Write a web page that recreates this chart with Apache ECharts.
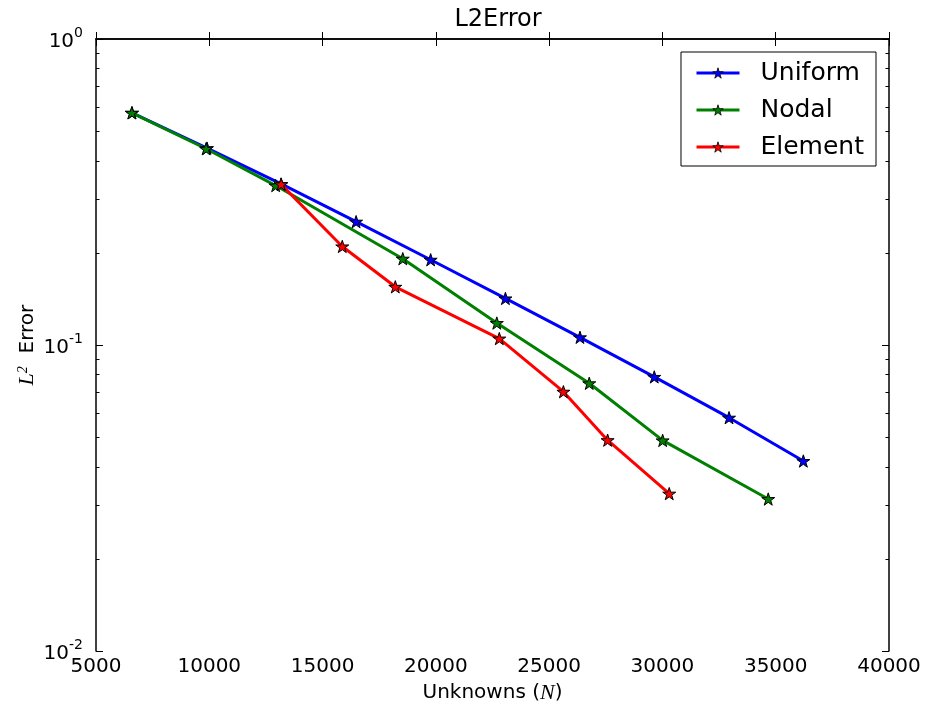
<!DOCTYPE html>
<html>
<head>
<meta charset="utf-8">
<title>L2Error</title>
<script src="https://cdn.jsdelivr.net/npm/echarts@6/dist/echarts.min.js"></script>
<style>
  html, body { margin: 0; padding: 0; background: #fff; }
  #chart { width: 930px; height: 709px; }
</style>
</head>
<body>
<div id="chart"></div>
<script>
// values
const uniformN = [6590, 9900, 13170, 16480, 19770, 23070, 26360, 29640, 32940, 36220]
const uniformErr = [0.574, 0.440, 0.336, 0.253, 0.190, 0.142, 0.106, 0.0787, 0.0579, 0.0418]

const nodalN = [6580, 9860, 12930, 18540, 22690, 26770, 30010, 34670]
const nodalErr = [0.574, 0.438, 0.332, 0.1915, 0.118, 0.075, 0.0488, 0.0314]

const elementN = [13170, 15870, 18210, 22800, 25630, 27580, 30300]
const elementErr = [0.335, 0.210, 0.155, 0.105, 0.0704, 0.0489, 0.0327]

// axis ticks
const xMin = 5000
const xMax = 40000
const xStep = 5000
const yMin = 0.01
const yMax = 1
const minorMultipliers = [2, 3, 4, 5, 6, 7, 8, 9]

const FONT = 'DejaVu Sans'

// minor tick positions in log10 space, for the helper axes
const minorTicks = []
for (let e = Math.log10(yMin); e < Math.log10(yMax); e++) {
  minorMultipliers.forEach(m => minorTicks.push(Math.log10(m) + e))
}

// matplotlib style '*' marker
const STAR = 'path://M100,0 L122.45,69.1 L195.1,69.1 L136.3,111.8 L158.8,180.9 L100,138.2 L41.2,180.9 L63.7,111.8 L4.9,69.1 L77.55,69.1 Z'

const zip = (xs, ys) => xs.map((x, i) => [x, ys[i]])

const makeSeries = (name, xs, ys, color) => ({
  name,
  type: 'line',
  data: zip(xs, ys),
  xAxisIndex: 0,
  yAxisIndex: 0,
  symbol: STAR,
  symbolSize: 13,
  symbolKeepAspect: true,
  showAllSymbol: true,
  lineStyle: { color, width: 3 },
  itemStyle: { color, borderColor: '#000', borderWidth: 1 },
  emphasis: { disabled: true }
})

const tickCommon = { show: true, inside: true, lineStyle: { color: '#000', width: 1 } }
const lineCommon = { show: true, lineStyle: { color: '#000', width: 1.5 } }

// helper axis that only draws minor ticks
const minorAxis = (position) => ({
  type: 'value',
  position,
  min: Math.log10(yMin),
  max: Math.log10(yMax),
  axisLine: { show: false },
  axisLabel: { show: false },
  splitLine: { show: false },
  axisTick: Object.assign({}, tickCommon, { length: 3.5, customValues: minorTicks })
})

const chart = echarts.init(document.getElementById('chart'))

chart.setOption({
  animation: false,
  backgroundColor: '#fff',
  textStyle: { fontFamily: FONT },
  title: {
    text: 'L2Error',
    left: 493,
    textAlign: 'center',
    top: 3,
    textStyle: { fontFamily: FONT, fontSize: 24, fontWeight: 'normal', color: '#000' }
  },
  grid: { left: 96, right: 41, top: 39, bottom: 57 },
  legend: {
    orient: 'vertical',
    right: 54,
    top: 52,
    align: 'left',
    padding: [8, 12, 6, 14],
    itemGap: 11,
    itemWidth: 43,
    itemHeight: 13,
    backgroundColor: '#fff',
    borderColor: '#000',
    borderWidth: 1,
    borderRadius: 0,
    lineStyle: { width: 3 },
    itemStyle: { borderWidth: 0.8 },
    textStyle: { fontFamily: FONT, fontSize: 25, color: '#000', lineHeight: 26, padding: [0, 0, 0, 16] },
    data: ['Uniform', 'Nodal', 'Element']
  },
  xAxis: [
    {
      type: 'value',
      position: 'bottom',
      min: xMin,
      max: xMax,
      interval: xStep,
      name: '{n|Unknowns (}{i|N}{n|)}',
      nameLocation: 'middle',
      nameGap: 29,
      nameTextStyle: {
        rich: {
          n: { fontFamily: FONT, fontSize: 20, color: '#000' },
          i: { fontFamily: 'Liberation Serif', fontStyle: 'italic', fontSize: 22, color: '#000' }
        }
      },
      axisLine: lineCommon,
      axisTick: Object.assign({}, tickCommon, { length: 7 }),
      axisLabel: { fontFamily: FONT, fontSize: 20, color: '#000', margin: 6, formatter: v => String(v) },
      splitLine: { show: false }
    },
    {
      type: 'value',
      position: 'top',
      min: xMin,
      max: xMax,
      interval: xStep,
      axisLine: lineCommon,
      axisTick: Object.assign({}, tickCommon, { length: 7 }),
      axisLabel: { show: false },
      splitLine: { show: false }
    }
  ],
  yAxis: [
    {
      type: 'log',
      logBase: 10,
      position: 'left',
      min: yMin,
      max: yMax,
      name: '{i|L}{s|2}{n|  Error}',
      nameLocation: 'middle',
      nameGap: 58,
      nameMoveOverlap: false,
      nameTextStyle: {
        rich: {
          n: { fontFamily: FONT, fontSize: 20, color: '#000', verticalAlign: 'bottom' },
          i: { fontFamily: 'Liberation Serif', fontStyle: 'italic', fontSize: 22, color: '#000', verticalAlign: 'bottom' },
          s: { fontFamily: 'Liberation Serif', fontStyle: 'italic', fontSize: 14, color: '#000', verticalAlign: 'top' }
        }
      },
      axisLine: lineCommon,
      axisTick: Object.assign({}, tickCommon, { length: 7 }),
      axisLabel: {
        margin: 13,
        formatter: v => '{b|10}{s|' + Math.round(Math.log10(v)) + '}',
        rich: {
          b: { fontFamily: FONT, fontSize: 20, color: '#000', lineHeight: 26, verticalAlign: 'bottom' },
          s: { fontFamily: FONT, fontSize: 14, color: '#000', verticalAlign: 'top' }
        }
      },
      splitLine: { show: false }
    },
    minorAxis('left'),
    {
      type: 'log',
      logBase: 10,
      position: 'right',
      min: yMin,
      max: yMax,
      axisLine: lineCommon,
      axisTick: Object.assign({}, tickCommon, { length: 7 }),
      axisLabel: { show: false },
      splitLine: { show: false }
    },
    minorAxis('right')
  ],
  series: [
    makeSeries('Uniform', uniformN, uniformErr, '#0000ff'),
    makeSeries('Nodal', nodalN, nodalErr, '#008000'),
    makeSeries('Element', elementN, elementErr, '#ff0000')
  ]
})
</script>
</body>
</html>
